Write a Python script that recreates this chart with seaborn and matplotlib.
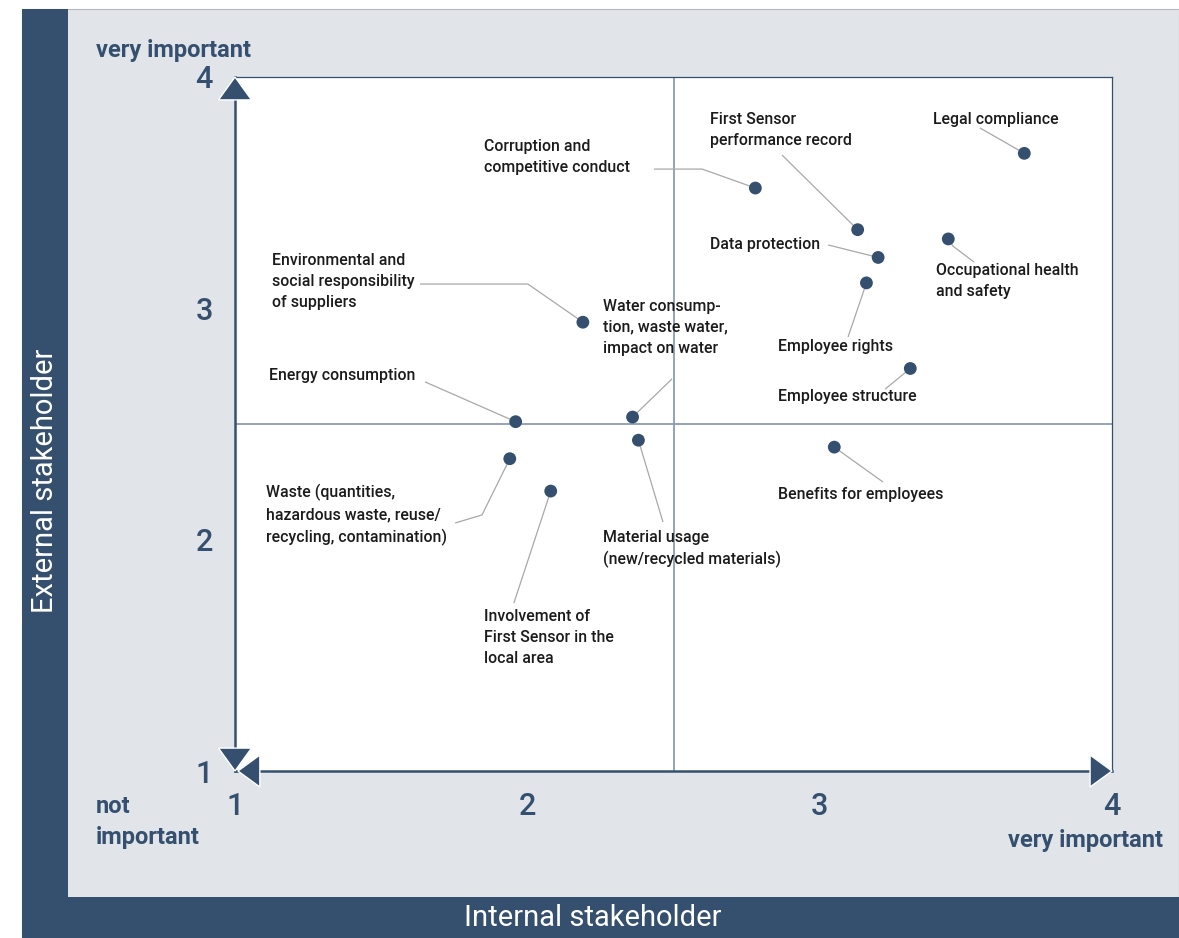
import matplotlib
matplotlib.use("Agg")
import matplotlib.pyplot as plt
import pandas as pd
import seaborn as sns
from matplotlib.patches import Rectangle

# --- materiality data: importance to internal (x) and external (y) stakeholders ---
topics = [
    "Legal compliance",
    "First Sensor\nperformance record",
    "Corruption and\ncompetitive conduct",
    "Data protection",
    "Occupational health\nand safety",
    "Employee rights",
    "Employee structure",
    "Environmental and\nsocial responsibility\nof suppliers",
    "Water consump-\ntion, waste water,\nimpact on water",
    "Energy consumption",
    "Waste (quantities,\nhazardous waste, reuse/\nrecycling, contamination)",
    "Involvement of\nFirst Sensor in the\nlocal area",
    "Material usage\n(new/recycled materials)",
    "Benefits for employees",
]
internal = [3.70, 3.13, 2.78, 3.20, 3.44, 3.16, 3.31, 2.19, 2.36, 1.96, 1.94, 2.08, 2.38, 3.05]
external = [3.67, 3.34, 3.52, 3.22, 3.30, 3.11, 2.74, 2.94, 2.53, 2.51, 2.35, 2.21, 2.43, 2.40]

axis_ticks = [1, 2, 3, 4]
axis_tick_labels = ["1", "2", "3", "4"]
threshold = 2.5

# --- label layout: left/center anchor of each label and the bends of its leader line ---
label_anchor = [
    (3.388, 3.818), (2.625, 3.773), (1.852, 3.656), (2.625, 3.274),
    (3.398, 3.116), (2.857, 2.837), (2.857, 2.621), (1.127, 3.118),
    (2.259, 2.919), (1.116, 2.708), (1.106, 2.107), (1.852, 1.575),
    (2.259, 1.960), (2.857, 2.197),
]
leader_via = [
    [(3.548, 3.780)],
    [(2.871, 3.663)],
    [(2.433, 3.602), (2.598, 3.602)],
    [(3.029, 3.274)],
    [(3.528, 3.200), (3.456, 3.269)],
    [(3.097, 2.876)],
    [(3.224, 2.651)],
    [(1.633, 3.105), (2.002, 3.105)],
    [(2.495, 2.695)],
    [(1.650, 2.682)],
    [(1.753, 2.072), (1.845, 2.107)],
    [(1.954, 1.726)],
    [(2.464, 2.076)],
    [(3.217, 2.249)],
]

NAVY = "#35506f"
PANEL = "#e1e4e9"
LEADER = "#a8a8a8"
GUIDE = "#8c9cb4"

sns.set_theme(style="white")
plt.rcParams["font.family"] = ["Roboto", "DejaVu Sans"]

df = pd.DataFrame({"topic": topics, "internal": internal, "external": external})

W, H = 1179, 938
fig = plt.figure(figsize=(W / 100, H / 100), dpi=100)
fig.patch.set_facecolor("white")

# framed background: light panel with navy bands on the left and bottom
fig.patches.append(Rectangle((22 / W, 0), 1 - 22 / W, 1 - 9 / H, transform=fig.transFigure,
                             facecolor=PANEL, edgecolor="#b5b9bf", lw=0.8, zorder=-3))
fig.patches.append(Rectangle((22 / W, 0), 46 / W, 1 - 9 / H, transform=fig.transFigure,
                             facecolor=NAVY, edgecolor="none", zorder=-2))
fig.patches.append(Rectangle((22 / W, 0), 1 - 22 / W, 41 / H, transform=fig.transFigure,
                             facecolor=NAVY, edgecolor="none", zorder=-2))

ax = fig.add_axes([235 / W, 1 - 771 / H, 877 / W, 694 / H])
ax.set_facecolor("white")
ax.set_zorder(1)

# quadrant guides
ax.axvline(threshold, color=GUIDE, lw=1.3, zorder=1)
ax.axhline(threshold, color=GUIDE, lw=1.3, zorder=1)

# leader lines from each label to its point
for (lx, ly), via, x, y in zip(label_anchor, leader_via, internal, external):
    xs = [p[0] for p in via] + [x]
    ys = [p[1] for p in via] + [y]
    ax.plot(xs, ys, color=LEADER, lw=0.9, zorder=2, solid_capstyle="butt")

sns.scatterplot(data=df, x="internal", y="external", s=85, color=NAVY,
                edgecolor="none", linewidth=0, ax=ax, zorder=3, legend=False)

for t, (lx, ly) in zip(topics, label_anchor):
    ax.text(lx, ly, t, ha="left", va="center", fontsize=11.4, fontweight="medium",
            color="#1b1b1b", linespacing=1.5, zorder=4)

ax.set_xlim(1, 4)
ax.set_ylim(1, 4)
ax.set_xticks(axis_ticks)
ax.set_xticklabels(axis_tick_labels, fontweight="medium")
ax.set_yticks(axis_ticks)
ax.set_yticklabels(axis_tick_labels, fontweight="medium")
ax.set_xlabel("")
ax.set_ylabel("")
ax.tick_params(axis="both", direction="out", length=8, width=1.4, color=NAVY,
               labelcolor=NAVY, labelsize=22)
ax.tick_params(axis="x", pad=7)
ax.tick_params(axis="y", pad=8)

for side in ["top", "right"]:
    ax.spines[side].set_color(NAVY)
    ax.spines[side].set_linewidth(0.9)
for side in ["left", "bottom"]:
    ax.spines[side].set_color(NAVY)
    ax.spines[side].set_linewidth(1.8)

# arrow heads on both axis lines
hx, hy = 0.0565, 0.099      # half width / length of vertical heads
vx, vy = 0.075, 0.069       # length / half width of horizontal heads
heads = [
    ([1 - hx, 1, 1 + hx], [4 - hy, 4, 4 - hy]),
    ([1 - hx, 1, 1 + hx], [1 + hy, 1, 1 + hy]),
    ([1.01 + vx, 1.01, 1.01 + vx], [1 - vy, 1, 1 + vy]),
    ([4 - vx, 4, 4 - vx], [1 - vy, 1, 1 + vy]),
]
for xs, ys in heads:
    ax.fill(xs, ys, facecolor=NAVY, edgecolor="white", lw=1.0, clip_on=False, zorder=6)

# scale annotations
fig.text(96 / W, 1 - 50 / H, "very important", ha="left", va="center",
         fontsize=17, fontweight="bold", color=NAVY)
fig.text(96 / W, 1 - 822 / H, "not\nimportant", ha="left", va="center",
         fontsize=17, fontweight="bold", color=NAVY, linespacing=1.45)
fig.text(1163 / W, 1 - 840 / H, "very important", ha="right", va="center",
         fontsize=17, fontweight="bold", color=NAVY)

fig.text(45 / W, 1 - 481 / H, "External stakeholder", rotation=90, ha="center",
         va="center", fontsize=21, fontweight="normal", color="white")
fig.text(593 / W, 1 - 918 / H, "Internal stakeholder", ha="center", va="center",
         fontsize=21, fontweight="normal", color="white")

fig.savefig("out.png", dpi=100)
